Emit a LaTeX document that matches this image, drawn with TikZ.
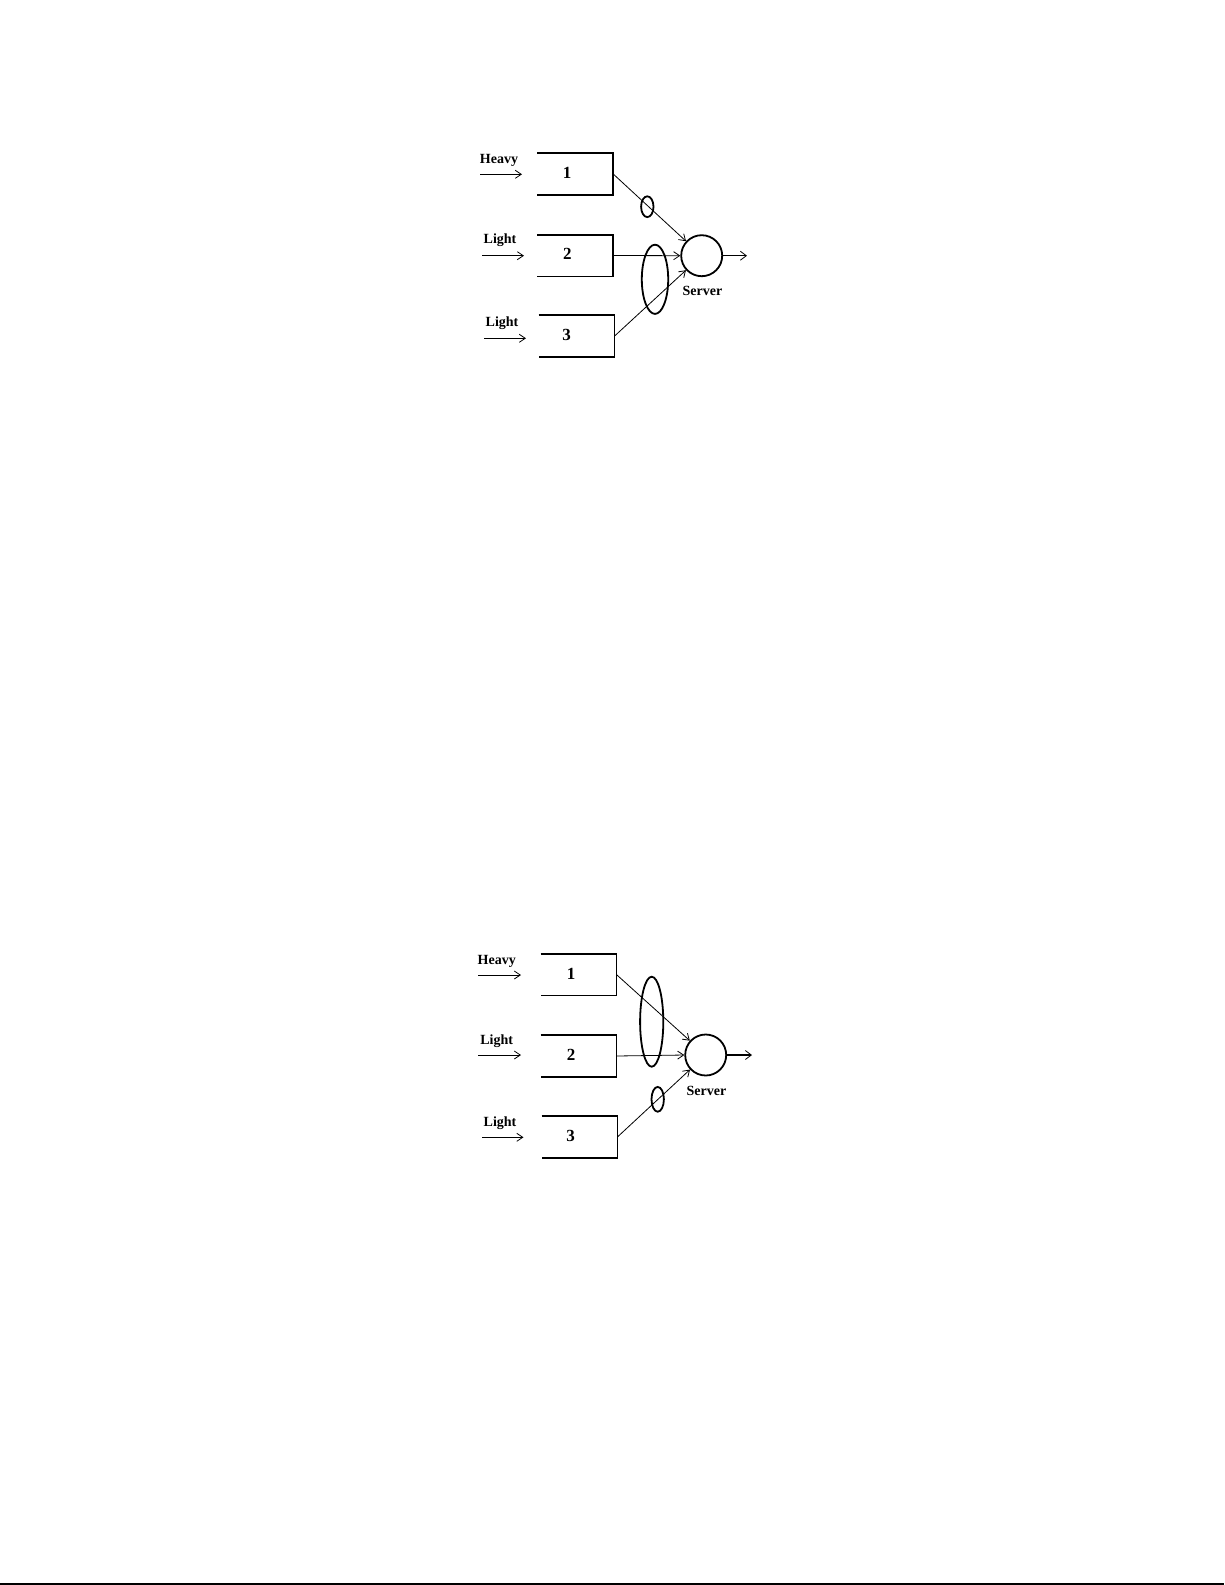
\documentclass[tikz,border=0pt]{standalone}
\usepackage{fontspec}
\setmainfont{Liberation Serif}
\usetikzlibrary{arrows.meta}
\begin{document}
\begin{tikzpicture}[x=0.5pt,y=-0.5pt,
  qbox/.style={draw=none,minimum width=37.5pt,minimum height=20.5pt,inner sep=0pt},
  num/.style={font=\fontsize{8.5}{9}\selectfont\bfseries,inner sep=0pt},
  qedge/.style={line width=0.9pt},
  srvnode/.style={circle,draw,line width=0.9pt,minimum size=20.5pt,inner sep=0pt},
  lbl/.style={font=\fontsize{7}{8}\selectfont\bfseries,inner sep=0pt},
  thin/.style={line width=0.4pt,-{Straight Barb[length=3pt,width=4pt]}},
  outarr/.style={line width=0.7pt,-{Straight Barb[length=3pt,width=4.5pt,line width=0.4pt]}},
  grp/.style={line width=0.9pt}]
\useasboundingbox (0,0) rectangle (1225,1585);

% ---------- top diagram ----------
\node[qbox] (t1) at (575,173.7) {};
\node[qbox] (t2) at (575,255.5) {};
\node[qbox] (t3) at (576.5,336.2) {};
\foreach \b in {t1,t2,t3}
  \draw[qedge] (\b.north west) -- (\b.north east) -- (\b.south east) -- (\b.south west);
\node[num] (tn1) at (567,173) {1};
\node[num] (tn2) at (567.3,254.3) {2};
\node[num] (tn3) at (566.7,335) {3};
\node[srvnode] (ts) at (701.7,255.7) {};
\node[lbl] (tsl) at (702.5,291) {Server};
\coordinate (tout) at (747,255.7);
\draw[outarr] (ts.east) -- (tout);

\node[lbl] (th) at (499,160.5) {Heavy};
\node[lbl] (tl2) at (500,240.5) {Light};
\node[lbl] (tl3) at (502,323) {Light};
\coordinate (ta1s) at (480,174.3); \coordinate (ta1e) at (522,174.3);
\coordinate (ta2s) at (482,255.7); \coordinate (ta2e) at (524,255.7);
\coordinate (ta3s) at (484,338.3); \coordinate (ta3e) at (526,338.3);
\draw[thin] (ta1s) -- (ta1e);
\draw[thin] (ta2s) -- (ta2e);
\draw[thin] (ta3s) -- (ta3e);

\draw[thin] (t1.east) -- (ts);
\draw[thin] (t2.east) -- (ts.west);
\draw[thin] (t3.east) -- (ts);

\draw[grp] (647.3,206.7) ellipse [x radius=3.1pt, y radius=5.2pt];
\draw[grp] (655,279.3) ellipse [x radius=6.6pt, y radius=17.3pt];

% ---------- bottom diagram ----------
\node[qbox] (b1) at (578.5,974.5) {};
\node[qbox] (b2) at (578.5,1056) {};
\node[qbox] (b3) at (579.5,1137) {};
\foreach \b in {b1,b2,b3}
  \draw[qedge] (\b.north west) -- (\b.north east) -- (\b.south east) -- (\b.south west);
\node[num] (bn1) at (571,974) {1};
\node[num] (bn2) at (571,1055) {2};
\node[num] (bn3) at (570.7,1136) {3};
\node[srvnode] (bs) at (705.7,1055) {};
\node[lbl] (bsl) at (706.5,1091) {Server};
\coordinate (bout) at (752,1055);
\draw[outarr] (bs.east) -- (bout);

\node[lbl] (bh) at (496.7,961.5) {Heavy};
\node[lbl] (bl2) at (496.7,1041.5) {Light};
\node[lbl] (bl3) at (500,1123.5) {Light};
\coordinate (ba1s) at (478,975); \coordinate (ba1e) at (521,975);
\coordinate (ba2s) at (478,1055); \coordinate (ba2e) at (521,1055);
\coordinate (ba3s) at (482,1137.3); \coordinate (ba3e) at (523.5,1137.3);
\draw[thin] (ba1s) -- (ba1e);
\draw[thin] (ba2s) -- (ba2e);
\draw[thin] (ba3s) -- (ba3e);

\draw[thin] (b1.east) -- (bs);
\draw[thin] (b2.east) -- (bs.west);
\draw[thin] (b3.east) -- (bs);

\draw[grp] (651.7,1021.7) ellipse [x radius=5.8pt, y radius=22.5pt];
\draw[grp] (657.7,1099.3) ellipse [x radius=3.1pt, y radius=6.2pt];

% ---------- page rule ----------
\coordinate (rl) at (0,1584);
\coordinate (rr) at (1224,1584);
\draw[line width=1pt] (rl) -- (rr);
\end{tikzpicture}
\end{document}
